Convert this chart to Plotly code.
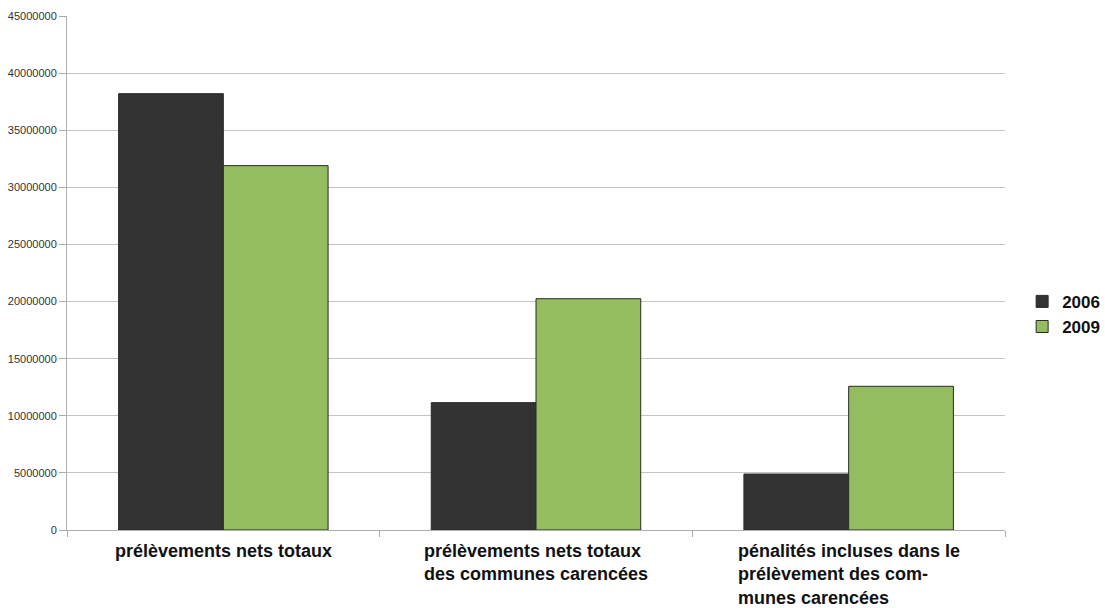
import plotly.graph_objects as go

categories = [
    "prélèvements nets totaux",
    "prélèvements nets totaux<br>des communes carencées",
    "pénalités incluses dans le<br>prélèvement des com-<br>munes carencées",
]
years = ["2006", "2009"]
values_2006 = [38200000, 11150000, 4900000]
values_2009 = [31900000, 20250000, 12580000]
colors = ["#333333", "#93bd5e"]

fig = go.Figure()
for year, vals, col in zip(years, [values_2006, values_2009], colors):
    fig.add_trace(go.Bar(
        x=list(range(len(categories))), y=vals, name=year,
        marker=dict(color=col, line=dict(color="#2a2a2a", width=1)),
    ))

# category labels drawn as left-aligned text blocks under each group
for i, cat in enumerate(categories):
    fig.add_annotation(
        x=i, y=0, xref="x", yref="y", text=cat, showarrow=False,
        xanchor="center", yanchor="top", align="left", yshift=-9,
        font=dict(family="Liberation Sans, Arial", size=18, color="#111111", weight="bold"),
    )

fig.update_layout(
    width=1105, height=608,
    margin=dict(l=67, r=100, t=16, b=78, autoexpand=False),
    paper_bgcolor="white", plot_bgcolor="white",
    barmode="group", bargap=0.33, bargroupgap=0,
    font=dict(family="Liberation Sans, Arial"),
    legend=dict(
        xref="container", yref="container",
        x=0.925, y=0.483, xanchor="left", yanchor="middle",
        font=dict(size=17, color="#111111", family="Liberation Sans, Arial", weight="bold"),
        itemwidth=30, tracegroupgap=4,
    ),
    xaxis=dict(
        range=[-0.5, 2.5], tickmode="array", tickvals=[-0.5, 0.5, 1.5, 2.5],
        ticktext=["", "", "", ""], ticks="outside", ticklen=6, tickcolor="#aaaaaa",
        showline=True, linecolor="#b0b0b0", linewidth=1, showgrid=False, zeroline=False,
    ),
    yaxis=dict(
        range=[0, 45000000], dtick=5000000, tickformat="d",
        ticks="outside", ticklen=7, tickcolor="#aaaaaa",
        tickfont=dict(size=11, color="#333333"),
        showline=True, linecolor="#b0b0b0", linewidth=1,
        showgrid=True, gridcolor="#c4c4c4", gridwidth=1, zeroline=False,
    ),
)

fig.write_html("out.html")
